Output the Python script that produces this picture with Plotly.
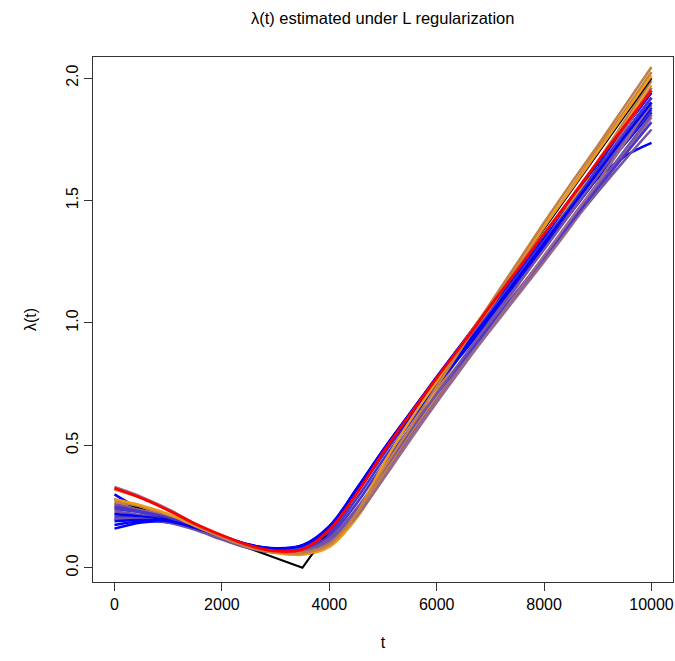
import plotly.graph_objects as go

# Time grid on which each fitted rate curve is tabulated
t_grid = [0, 500, 1000, 1500, 2000, 2500, 3000, 3500, 4000, 4500, 5000,
          5500, 6000, 6500, 7000, 7500, 8000, 8500, 9000, 9500, 10000]

# True rate function (piecewise linear)
true_t = [0, 3500, 10000]
true_lambda = [0.28, 0.0, 2.0]

# Fitted curves, grouped by colour
blue_fits = [
    [0.16, 0.185, 0.19, 0.165, 0.125, 0.09, 0.075, 0.085, 0.16, 0.31, 0.47, 0.62, 0.76, 0.90, 1.04, 1.18, 1.33, 1.47, 1.59, 1.68, 1.735],
    [0.175, 0.19, 0.185, 0.16, 0.125, 0.09, 0.075, 0.09, 0.165, 0.315, 0.475, 0.625, 0.765, 0.905, 1.045, 1.19, 1.33, 1.47, 1.60, 1.73, 1.86],
    [0.30, 0.24, 0.21, 0.17, 0.13, 0.095, 0.078, 0.09, 0.165, 0.32, 0.48, 0.63, 0.775, 0.92, 1.06, 1.20, 1.345, 1.49, 1.635, 1.775, 1.92],
    [0.20, 0.20, 0.19, 0.165, 0.13, 0.095, 0.08, 0.092, 0.17, 0.32, 0.48, 0.63, 0.78, 0.925, 1.07, 1.215, 1.36, 1.51, 1.65, 1.795, 1.94],
    [0.22, 0.21, 0.195, 0.165, 0.128, 0.092, 0.076, 0.088, 0.16, 0.31, 0.465, 0.605, 0.745, 0.88, 1.02, 1.165, 1.31, 1.45, 1.595, 1.74, 1.88],
    [0.19, 0.195, 0.19, 0.163, 0.127, 0.093, 0.079, 0.091, 0.168, 0.318, 0.473, 0.615, 0.755, 0.895, 1.035, 1.18, 1.325, 1.47, 1.615, 1.76, 1.90],
]
violet_fits = [
    [0.24, 0.225, 0.20, 0.165, 0.125, 0.088, 0.07, 0.08, 0.14, 0.28, 0.44, 0.59, 0.74, 0.885, 1.03, 1.17, 1.315, 1.455, 1.595, 1.735, 1.87],
    [0.21, 0.205, 0.19, 0.16, 0.12, 0.085, 0.068, 0.075, 0.13, 0.26, 0.42, 0.57, 0.71, 0.85, 0.99, 1.13, 1.27, 1.41, 1.55, 1.685, 1.82],
    [0.25, 0.23, 0.205, 0.17, 0.128, 0.09, 0.072, 0.082, 0.15, 0.30, 0.46, 0.61, 0.755, 0.90, 1.045, 1.19, 1.335, 1.48, 1.63, 1.775, 1.92],
]
purple_fits = [
    [0.23, 0.215, 0.195, 0.16, 0.118, 0.082, 0.064, 0.068, 0.115, 0.23, 0.385, 0.54, 0.69, 0.835, 0.98, 1.12, 1.26, 1.40, 1.535, 1.665, 1.79],
    [0.26, 0.235, 0.205, 0.165, 0.12, 0.083, 0.064, 0.068, 0.11, 0.22, 0.37, 0.53, 0.685, 0.835, 0.98, 1.125, 1.27, 1.415, 1.56, 1.705, 1.85],
    [0.20, 0.20, 0.185, 0.155, 0.115, 0.08, 0.063, 0.067, 0.12, 0.24, 0.395, 0.555, 0.71, 0.86, 1.01, 1.155, 1.30, 1.45, 1.60, 1.745, 1.89],
]
mauve_fits = [
    [0.33, 0.29, 0.24, 0.18, 0.128, 0.088, 0.066, 0.065, 0.10, 0.21, 0.36, 0.52, 0.675, 0.825, 0.975, 1.125, 1.275, 1.425, 1.575, 1.735, 1.90],
    [0.25, 0.235, 0.21, 0.17, 0.125, 0.085, 0.063, 0.062, 0.10, 0.21, 0.365, 0.525, 0.685, 0.84, 0.995, 1.15, 1.305, 1.465, 1.625, 1.79, 1.96],
    [0.22, 0.21, 0.195, 0.16, 0.12, 0.083, 0.062, 0.063, 0.105, 0.22, 0.375, 0.535, 0.685, 0.83, 0.97, 1.11, 1.25, 1.395, 1.545, 1.69, 1.84],
]
tan_fits = [
    [0.32, 0.285, 0.235, 0.175, 0.125, 0.085, 0.063, 0.06, 0.095, 0.22, 0.40, 0.57, 0.74, 0.91, 1.08, 1.245, 1.41, 1.57, 1.725, 1.885, 2.045],
    [0.27, 0.25, 0.215, 0.17, 0.123, 0.084, 0.062, 0.06, 0.098, 0.215, 0.38, 0.55, 0.72, 0.89, 1.06, 1.225, 1.39, 1.55, 1.71, 1.865, 2.025],
    [0.24, 0.23, 0.205, 0.165, 0.12, 0.082, 0.062, 0.061, 0.10, 0.215, 0.375, 0.535, 0.695, 0.855, 1.015, 1.175, 1.335, 1.495, 1.66, 1.825, 1.99],
]
orange_fits = [
    [0.28, 0.255, 0.22, 0.17, 0.125, 0.085, 0.062, 0.055, 0.09, 0.22, 0.42, 0.60, 0.76, 0.92, 1.08, 1.24, 1.395, 1.545, 1.70, 1.855, 2.01],
    [0.265, 0.245, 0.215, 0.168, 0.123, 0.084, 0.06, 0.053, 0.085, 0.20, 0.37, 0.535, 0.695, 0.855, 1.01, 1.17, 1.33, 1.49, 1.65, 1.81, 1.97],
]
red_fit = [0.325, 0.285, 0.235, 0.18, 0.133, 0.092, 0.068, 0.075, 0.155, 0.30, 0.47,
           0.625, 0.775, 0.92, 1.07, 1.215, 1.365, 1.51, 1.66, 1.805, 1.95]

colours = {
    "blue": "#0000FF",
    "violet": "#4A35CC",
    "purple": "#7453A6",
    "mauve": "#98688A",
    "tan": "#C27F45",
    "orange": "#F09A18",
}

# Drawing order mixes the colour groups so each stays visible in the bundle
draw_order = [
    ("blue", blue_fits[0]), ("tan", tan_fits[2]), ("blue", blue_fits[1]),
    ("purple", purple_fits[0]), ("mauve", mauve_fits[2]), ("blue", blue_fits[2]),
    ("violet", violet_fits[0]), ("orange", orange_fits[1]), ("purple", purple_fits[1]),
    ("blue", blue_fits[3]), ("mauve", mauve_fits[1]), ("violet", violet_fits[1]),
    ("tan", tan_fits[1]), ("blue", blue_fits[4]), ("purple", purple_fits[2]),
    ("mauve", mauve_fits[0]), ("violet", violet_fits[2]), ("blue", blue_fits[5]),
    ("orange", orange_fits[0]), ("tan", tan_fits[0]),
]

fig = go.Figure()
for i, (name, y) in enumerate(draw_order):
    if i == 9:
        # true rate sits mid-stack, partly covered by later fits
        fig.add_trace(go.Scatter(x=true_t, y=true_lambda, mode="lines",
                                 line=dict(color="black", width=2.2),
                                 showlegend=False, hoverinfo="skip"))
    fig.add_trace(go.Scatter(x=t_grid, y=y, mode="lines",
                             line=dict(color=colours[name], width=2.5, shape="spline", smoothing=1.0),
                             showlegend=False, hoverinfo="skip"))

fig.add_trace(go.Scatter(x=t_grid, y=red_fit, mode="lines",
                         line=dict(color="#FF0000", width=2.8, shape="spline", smoothing=1.0),
                         showlegend=False, hoverinfo="skip"))

font_family = "Liberation Sans, Arial, sans-serif"
fig.update_layout(
    width=675, height=661,
    margin=dict(l=93, r=2, t=57, b=79),
    paper_bgcolor="white", plot_bgcolor="white",
    font=dict(family=font_family, color="black", size=16),
    title=dict(text="λ(t) estimated under L regularization", x=0.567, xanchor="center",
               y=0.973, yanchor="middle", font=dict(size=16.5)),
)
fig.update_xaxes(
    range=[-400, 10400], tickvals=[0, 2000, 4000, 6000, 8000, 10000],
    ticktext=["0", "2000", "4000", "6000", "8000", "10000"],
    showgrid=False, zeroline=False, showline=True, mirror=True, linecolor="#333333", linewidth=1,
    ticks="outside", ticklen=8, tickcolor="#333333", tickfont=dict(size=16),
    title=dict(text="t", standoff=24, font=dict(size=16)),
)
fig.update_yaxes(
    range=[-0.058, 2.086], tickvals=[0, 0.5, 1.0, 1.5, 2.0],
    ticktext=["0.0", "0.5", "1.0", "1.5", "2.0"], tickangle=-90,
    showgrid=False, zeroline=False, showline=True, mirror=True, linecolor="#333333", linewidth=1,
    ticks="outside", ticklen=8, tickcolor="#333333", tickfont=dict(size=16),
    title=dict(text="λ(t)", standoff=22, font=dict(size=16)),
)

fig.write_html("out.html")
